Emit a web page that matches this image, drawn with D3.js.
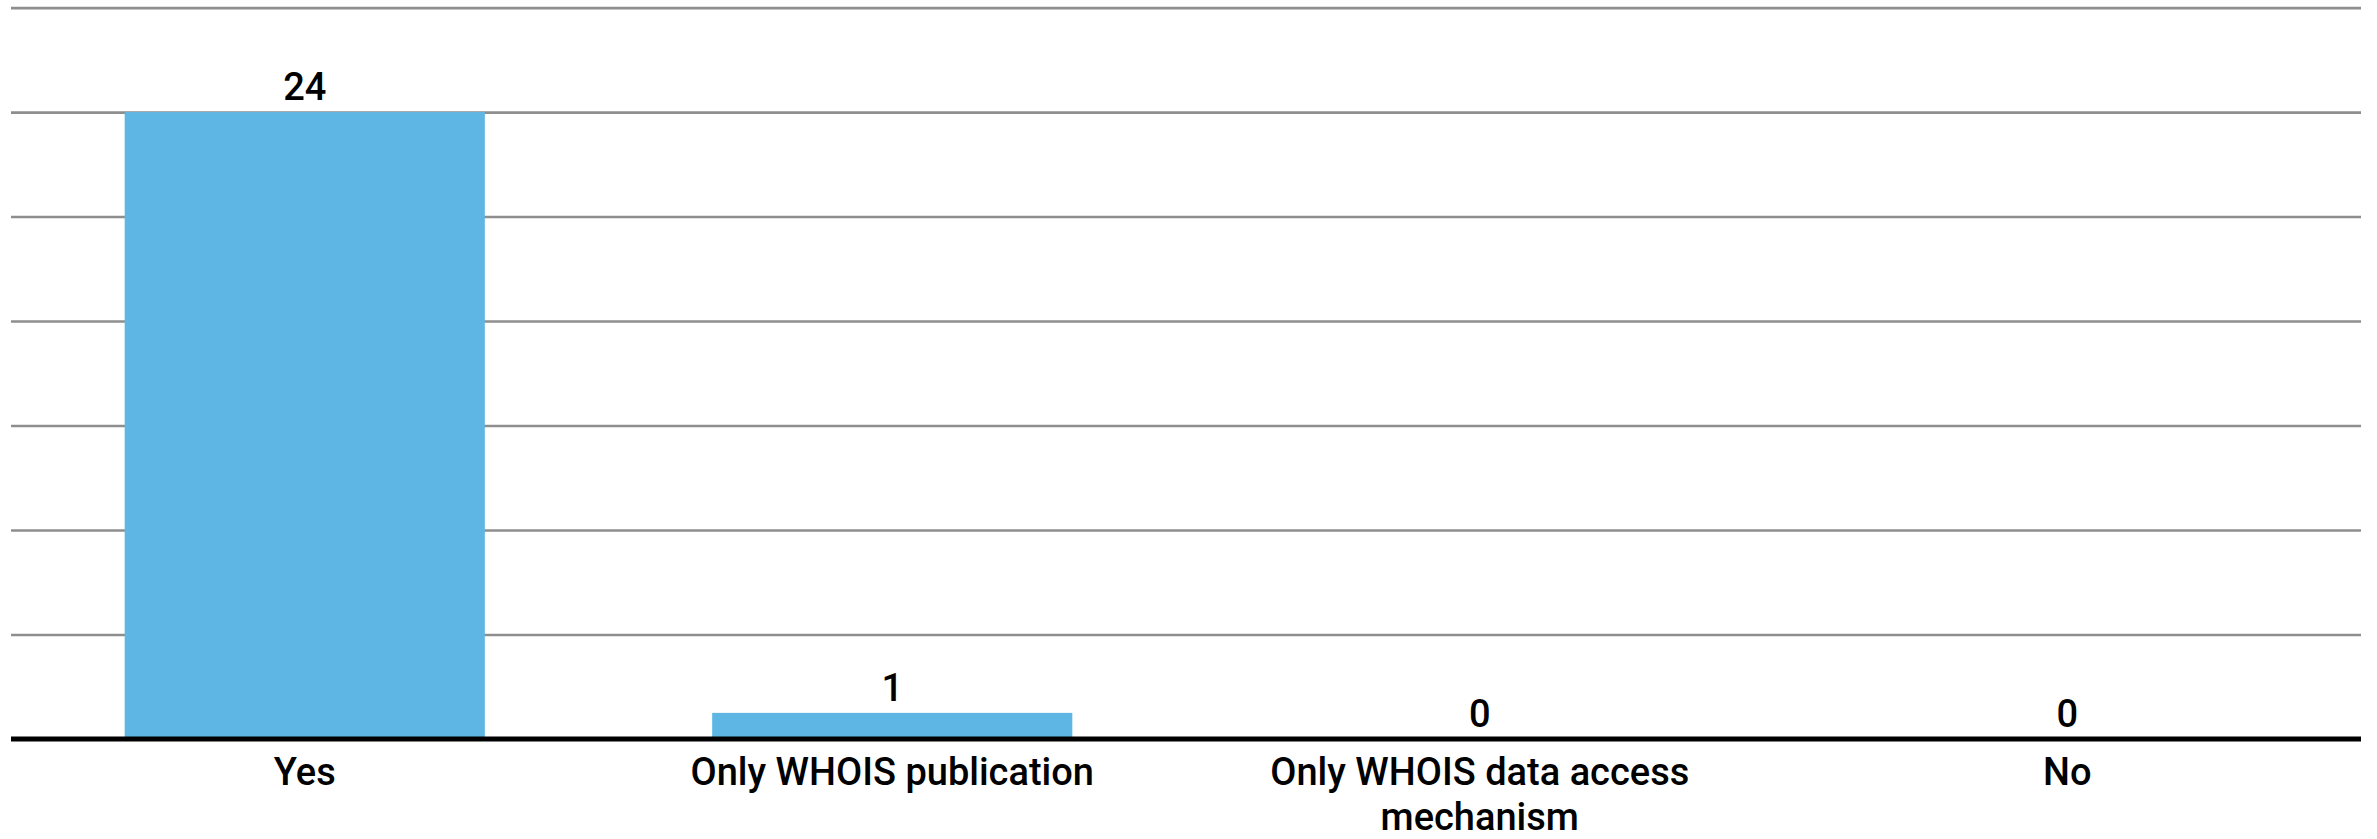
<!DOCTYPE html>
<html>
<head>
<meta charset="utf-8">
<script src="https://cdn.jsdelivr.net/npm/d3@7"></script>
<style>
  html, body { margin: 0; padding: 0; background: #fff; }
  svg { display: block; }
  text { font-family: Roboto, "Noto Sans", sans-serif; fill: #000; font-weight: 500; }
</style>
</head>
<body>
<script>
const categories = ["Yes", "Only WHOIS publication", "Only WHOIS data access mechanism", "No"];
const values = [24, 1, 0, 0];
const yTicks = [0, 4, 8, 12, 16, 20, 24, 28];

const W = 2377, H = 839;
const margin = { left: 11, right: 16, top: 7.6, bottom: 100 };
const FS = "38px";

const svg = d3.select("body").append("svg").attr("width", W).attr("height", H);

const x = d3.scaleBand()
  .domain(categories)
  .range([margin.left, W - margin.right])
  .paddingInner(0.387)
  .paddingOuter(0.1935);

const y = d3.scaleLinear()
  .domain([0, 28])
  .range([739, margin.top]);

// gridlines
const grid = d3.axisLeft(y).tickValues(yTicks.filter(d => d > 0))
  .tickSize(-(W - margin.right - margin.left)).tickFormat("");
svg.append("g")
  .attr("transform", `translate(${margin.left},0)`)
  .call(grid)
  .call(g => g.select(".domain").remove())
  .call(g => g.selectAll("line").attr("stroke", "#8e8e8e").attr("stroke-width", 2.6));

// bars
svg.append("g").selectAll("rect").data(categories).join("rect")
  .attr("x", d => x(d))
  .attr("width", x.bandwidth())
  .attr("y", (d, i) => y(values[i]))
  .attr("height", (d, i) => y(0) - y(values[i]))
  .attr("fill", "#5EB6E4");

// value labels
svg.append("g").selectAll("text").data(categories).join("text")
  .attr("x", d => x(d) + x.bandwidth() / 2)
  .attr("y", (d, i) => y(values[i]) - 12)
  .attr("text-anchor", "middle")
  .style("font-size", FS)
  .text((d, i) => values[i]);

// x axis baseline + labels
const xAxis = d3.axisBottom(x).tickSize(0).tickPadding(0);
const gx = svg.append("g")
  .attr("transform", `translate(0,${y(0)})`)
  .call(xAxis);
gx.select(".domain").remove();
gx.append("line")
  .attr("x1", margin.left).attr("x2", W - margin.right)
  .attr("y1", 0).attr("y2", 0)
  .attr("stroke", "#000").attr("stroke-width", 5);

gx.selectAll(".tick text")
  .style("font-size", FS)
  .style("font-family", "Roboto, 'Noto Sans', sans-serif")
  .style("font-weight", 500)
  .attr("fill", "#000")
  .attr("y", 0)
  .attr("dy", 0)
  .each(function(d) {
    const t = d3.select(this);
    const words = d.split(" ");
    t.text(null);
    const maxW = 500;
    let line = [], lines = [];
    let tspan = t.append("tspan");
    words.forEach(w => {
      line.push(w);
      tspan.text(line.join(" "));
      if (tspan.node().getComputedTextLength() > maxW && line.length > 1) {
        line.pop();
        lines.push(line.join(" "));
        line = [w];
        tspan.text(w);
      }
    });
    lines.push(line.join(" "));
    t.text(null);
    lines.forEach((l, i) => {
      t.append("tspan").attr("x", 0).attr("y", 46 + i * 45).text(l);
    });
  });
</script>
</body>
</html>
